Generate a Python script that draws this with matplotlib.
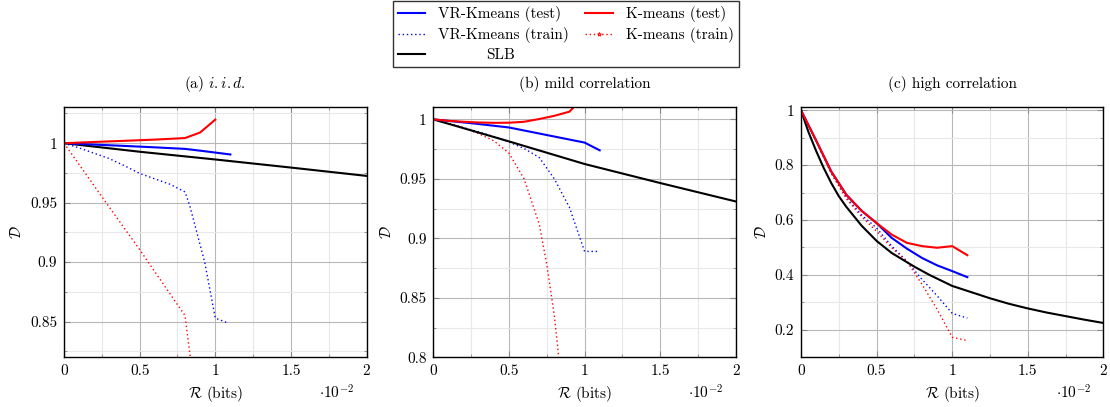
import matplotlib
matplotlib.use("Agg")
import matplotlib.pyplot as plt
from matplotlib.lines import Line2D
from matplotlib.ticker import MultipleLocator, FuncFormatter

plt.rcParams["font.family"] = ["cmr10", "DejaVu Serif"]
plt.rcParams["mathtext.fontset"] = "cm"
plt.rcParams["axes.formatter.use_mathtext"] = True
plt.rcParams["font.size"] = 11

# (a) i.i.d.
a_slb_r = [0, 0.5, 1.0, 1.5, 2.0]
a_slb_d = [1.0, 0.9928, 0.9863, 0.9795, 0.9725]
a_vr_test_r = [0, 0.2, 0.4, 0.6, 0.8, 0.9, 1.0, 1.1]
a_vr_test_d = [1.0, 0.9988, 0.9977, 0.9965, 0.9952, 0.9937, 0.9921, 0.9905]
a_km_test_r = [0, 0.2, 0.4, 0.6, 0.8, 0.9, 1.0]
a_km_test_d = [1.0, 1.001, 1.002, 1.003, 1.0043, 1.009, 1.0198]
a_vr_train_r = [0, 0.1, 0.2, 0.3, 0.4, 0.5, 0.6, 0.7, 0.8, 0.83, 0.93, 1.0, 1.08]
a_vr_train_d = [1.0, 0.996, 0.9915, 0.987, 0.981, 0.9746, 0.970, 0.9655, 0.959, 0.948, 0.9, 0.853, 0.849]
a_km_train_r = [0, 0.25, 0.5, 0.8, 0.86]
a_km_train_d = [1.0, 0.955, 0.9105, 0.855, 0.795]

# (b) mild correlation
b_slb_r = [0, 0.5, 1.0, 1.5, 2.0]
b_slb_d = [1.0, 0.9815, 0.9625, 0.9465, 0.931]
b_vr_test_r = [0, 0.25, 0.5, 1.0, 1.1]
b_vr_test_d = [1.0, 0.9968, 0.9932, 0.9805, 0.974]
b_km_test_r = [0, 0.1, 0.2, 0.3, 0.4, 0.5, 0.6, 0.7, 0.8, 0.9, 1.0]
b_km_test_d = [1.0, 0.9988, 0.998, 0.9974, 0.9971, 0.9972, 0.998, 1.0003, 1.003, 1.0065, 1.02]
b_vr_train_r = [0, 0.1, 0.2, 0.3, 0.4, 0.5, 0.6, 0.7, 0.8, 0.9, 1.0, 1.1]
b_vr_train_d = [1.0, 0.9965, 0.993, 0.9895, 0.9855, 0.981, 0.9755, 0.968, 0.950, 0.926, 0.889, 0.889]
b_km_train_r = [0, 0.1, 0.2, 0.3, 0.4, 0.5, 0.6, 0.7, 0.75, 0.8, 0.85]
b_km_train_d = [1.0, 0.997, 0.993, 0.988, 0.982, 0.9716, 0.95, 0.912, 0.878, 0.835, 0.775]

# (c) high correlation
c_slb_r = [0, 0.05, 0.1, 0.15, 0.2, 0.25, 0.3, 0.4, 0.5, 0.6, 0.75, 0.85, 1.0,
           1.1, 1.25, 1.375, 1.5, 1.625, 1.75, 1.875, 2.0]
c_slb_d = [1.0, 0.92, 0.852, 0.79, 0.735, 0.687, 0.648, 0.58, 0.524, 0.48, 0.43, 0.4, 0.36,
           0.342, 0.315, 0.295, 0.278, 0.263, 0.25, 0.237, 0.225]
c_vr_test_r = [0, 0.1, 0.2, 0.3, 0.4, 0.5, 0.6, 0.7, 0.8, 0.9, 1.0, 1.1]
c_vr_test_d = [1.0, 0.89, 0.777, 0.692, 0.634, 0.589, 0.535, 0.496, 0.462, 0.435, 0.414, 0.392]
c_km_test_r = [0, 0.1, 0.2, 0.3, 0.4, 0.5, 0.6, 0.7, 0.8, 0.9, 1.0, 1.1]
c_km_test_d = [1.0, 0.89, 0.777, 0.692, 0.634, 0.589, 0.547, 0.517, 0.505, 0.499, 0.505, 0.472]
c_vr_train_r = [0, 0.1, 0.2, 0.3, 0.4, 0.5, 0.6, 0.7, 0.8, 0.9, 1.0, 1.1]
c_vr_train_d = [1.0, 0.888, 0.772, 0.682, 0.619, 0.571, 0.505, 0.45, 0.384, 0.324, 0.26, 0.243]
c_km_train_r = [0, 0.1, 0.2, 0.3, 0.4, 0.5, 0.6, 0.7, 0.8, 0.9, 1.0, 1.1]
c_km_train_d = [1.0, 0.888, 0.77, 0.678, 0.613, 0.559, 0.499, 0.45, 0.366, 0.275, 0.173, 0.161]

titles = ["(a) $\\mathit{i.i.d.}$", "(b) mild correlation", "(c) high correlation"]
ylims = [(0.82, 1.03), (0.8, 1.01), (0.1, 1.01)]
ymajor = [0.05, 0.05, 0.2]

panels = [
    (a_slb_r, a_slb_d, a_vr_test_r, a_vr_test_d, a_km_test_r, a_km_test_d,
     a_vr_train_r, a_vr_train_d, a_km_train_r, a_km_train_d),
    (b_slb_r, b_slb_d, b_vr_test_r, b_vr_test_d, b_km_test_r, b_km_test_d,
     b_vr_train_r, b_vr_train_d, b_km_train_r, b_km_train_d),
    (c_slb_r, c_slb_d, c_vr_test_r, c_vr_test_d, c_km_test_r, c_km_test_d,
     c_vr_train_r, c_vr_train_d, c_km_train_r, c_km_train_d),
]

fig = plt.figure(figsize=(11.1, 4.07), dpi=100)
lefts = [0.0577, 0.3904, 0.7216]

fmt = FuncFormatter(lambda v, p: "%g" % round(v, 4))

for i, data in enumerate(panels):
    slb_r, slb_d, vt_r, vt_d, kt_r, kt_d, vtr_r, vtr_d, ktr_r, ktr_d = data
    ax = fig.add_axes([lefts[i], 0.1221, 0.2725, 0.6138])
    ax.plot(vtr_r, vtr_d, color="blue", ls=(0, (1, 2)), lw=1.0)
    ax.plot(ktr_r, ktr_d, color="red", ls=(0, (1, 2)), lw=1.0)
    ax.plot(slb_r, slb_d, color="black", lw=1.5)
    ax.plot(vt_r, vt_d, color="blue", lw=1.5)
    ax.plot(kt_r, kt_d, color="red", lw=1.5)
    ax.set_xlim(0, 2)
    ax.set_ylim(*ylims[i])
    ax.xaxis.set_major_locator(MultipleLocator(0.5))
    ax.xaxis.set_minor_locator(MultipleLocator(0.25))
    ax.yaxis.set_major_locator(MultipleLocator(ymajor[i]))
    ax.yaxis.set_minor_locator(MultipleLocator(ymajor[i] / 2))
    ax.xaxis.set_major_formatter(fmt)
    ax.yaxis.set_major_formatter(fmt)
    ax.grid(which="major", color="#b8b8b8", lw=0.8)
    ax.grid(which="minor", color="#e8e8e8", lw=0.8)
    ax.set_axisbelow(True)
    ax.tick_params(which="both", direction="in", top=True, right=True,
                   color="#888888", labelsize=11)
    ax.tick_params(which="major", length=4, pad=5)
    ax.tick_params(which="minor", length=2.5)
    for sp in ax.spines.values():
        sp.set_linewidth(1.0)
    ax.set_title(titles[i], fontsize=11, pad=14)
    ax.set_xlabel("$\\mathcal{R}$ (bits)", fontsize=11, labelpad=4)
    ax.set_ylabel("$\\mathcal{D}$", fontsize=11, labelpad=4)
    ax.text(0.9, -0.14, "$\\cdot 10^{-2}$", transform=ax.transAxes,
            ha="center", va="center", fontsize=11)

handles = [
    Line2D([], [], color="blue", lw=1.5),
    Line2D([], [], color="blue", ls=(0, (1, 2)), lw=1.0),
    Line2D([], [], color="black", lw=1.5),
    Line2D([], [], color="red", lw=1.5),
    Line2D([], [], color="red", ls=(0, (1, 2)), lw=1.0, marker="*", ms=3,
           markerfacecolor="none", markeredgewidth=0.6),
]
labels = ["VR-Kmeans (test)", "VR-Kmeans (train)", "SLB",
          "K-means (test)", "K-means (train)"]
leg = fig.legend(handles, labels, loc="upper center", bbox_to_anchor=(0.5098, 0.998),
                 ncol=2, fontsize=11, frameon=True, fancybox=False,
                 edgecolor="black", handlelength=1.8, columnspacing=1.05,
                 labelspacing=0.33, borderpad=0.35, handletextpad=0.85,
                 borderaxespad=0.0)
leg.get_frame().set_linewidth(1.0)
leg.get_texts()[2].set_x(48)

fig.savefig("out.png", dpi=100)
